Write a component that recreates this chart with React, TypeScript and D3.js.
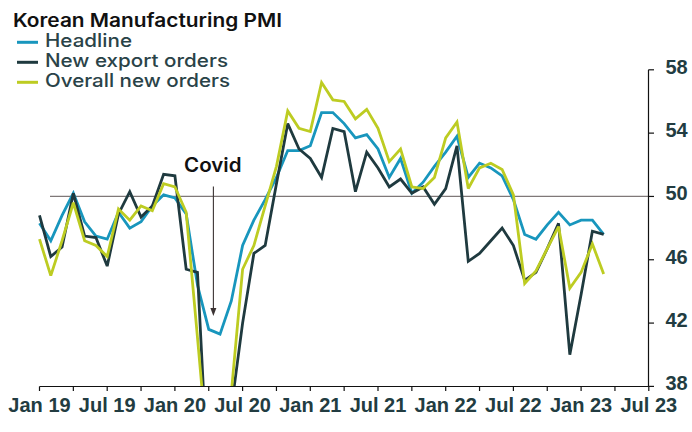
import React from "react";
import * as d3 from "d3";

// Monthly, Jan 2019 .. Mar 2023
const startYear = 2019;
const headline = [48.3, 47.2, 48.8, 50.2, 48.4, 47.5, 47.3, 49.0, 48.0, 48.4, 49.4, 50.1,
  49.9, 48.9, 44.4, 41.6, 41.3, 43.4, 46.9, 48.5, 49.8, 51.2, 52.9, 52.9,
  53.2, 55.3, 55.3, 54.6, 53.7, 53.9, 53.0, 51.2, 52.4, 50.2, 50.9, 51.9,
  52.8, 53.8, 51.2, 52.1, 51.8, 51.3, 49.8, 47.6, 47.3, 48.2, 49.0, 48.2,
  48.5, 48.5, 47.6];
const newExportOrders = [48.8, 46.2, 46.8, 50.2, 47.5, 47.4, 45.6, 48.9, 50.3, 48.7, 49.4, 51.4,
  51.3, 45.4, 45.2, 31.2, 30.5, 36.6, 42.0, 46.4, 46.9, 50.8, 54.6, 53.0,
  52.4, 51.2, 54.3, 54.1, 50.3, 52.8, 51.8, 50.6, 51.1, 50.2, 50.6, 49.5,
  50.5, 53.2, 45.9, 46.4, 47.2, 48.0, 46.9, 44.7, 45.2, 46.7, 48.3, 40.0,
  43.8, 47.8, 47.6];
const overallNewOrders = [47.3, 45.0, 47.2, 49.6, 47.2, 46.9, 46.2, 49.2, 48.5, 49.4, 49.1, 50.8,
  50.6, 49.0, 41.1, 33.0, 32.0, 37.6, 45.4, 46.9, 49.4, 51.9, 55.4, 54.3,
  54.1, 57.2, 56.1, 56.0, 54.9, 55.5, 54.3, 52.2, 53.0, 50.6, 50.5, 51.2,
  53.7, 54.7, 50.5, 51.8, 52.1, 51.7, 50.1, 44.5, 45.3, 46.7, 48.1, 44.2,
  45.2, 47.0, 45.1];

const seriesNames = ["Headline", "New export orders", "Overall new orders"];
const seriesColors = ["#1896bd", "#1f3a3f", "#bdcc22"];
const seriesData = [headline, newExportOrders, overallNewOrders];

const yTicks = [38, 42, 46, 50, 54, 58];
const xLabelMonths = [0, 6, 12, 18, 24, 30, 36, 42, 48, 54];
const monthNames = ["Jan", "Jul"];
const title = "Korean Manufacturing PMI";
const annotation = "Covid";
const annotationMonth = 15.5;
const referenceValue = 50;

export default function App() {
  const W = 692, H = 432;
  const x = d3.scaleLinear().domain([0, 54]).range([39.5, 648.8]);
  const y = d3.scaleLinear().domain([38, 58]).range([386.4, 69.8]);
  const line = d3.line<number>().x((_, i) => x(i)).y((d) => y(d));
  const quarterTicks = d3.range(0, 55, 3);
  const axisColor = "#223c41";
  const legendWidths = [87, 183, 185];
  const arrowX = x(annotationMonth) - 1;

  return (
    <svg width={W} height={H} style={{ position: "absolute", left: 0, top: 0, background: "#fff" }}>
      <defs>
        <clipPath id="plot">
          <rect x={0} y={40} width={W} height={386.6 - 40} />
        </clipPath>
      </defs>
      <text x={13} y={27.3} fontFamily="Inter, 'Liberation Sans', sans-serif" fontWeight={600}
        fontSize={18.5} fill="#111" textLength={269} lengthAdjust="spacingAndGlyphs">{title}</text>
      {seriesNames.map((n, i) => (
        <g key={n}>
          <line x1={17} x2={38} y1={42.3 + i * 20} y2={42.3 + i * 20} stroke={seriesColors[i]} strokeWidth={3} />
          <text x={45} y={47.3 + i * 19.9} fontFamily="Inter, 'Liberation Sans', sans-serif" fontWeight={500}
            fontSize={18.3} fill="#2a4348" textLength={legendWidths[i]} lengthAdjust="spacingAndGlyphs">{n}</text>
        </g>
      ))}
      {/* reference line */}
      <line x1={50} x2={648.5} y1={y(referenceValue)} y2={y(referenceValue)} stroke="#7f7878" strokeWidth={1.2} />
      {/* series */}
      <g clipPath="url(#plot)">
        {seriesData.map((d, i) => (
          <path key={i} d={line(d) || ""} fill="none" stroke={seriesColors[i]} strokeWidth={2.8}
            strokeLinejoin="miter" strokeMiterlimit={3} />
        ))}
      </g>
      {/* x axis */}
      <line x1={x(0)} x2={x(54)} y1={386.5} y2={386.5} stroke="#111" strokeWidth={1.2} />
      {quarterTicks.map((m) => (
        <line key={m} x1={x(m)} x2={x(m)} y1={386.5} y2={391} stroke="#111" strokeWidth={1.2} />
      ))}
      {xLabelMonths.map((m) => (
        <text key={m} x={x(m)} y={412.3} textAnchor="middle" fontFamily="'Liberation Sans', Arial, sans-serif"
          fontWeight={700} fontSize={20} fill={axisColor}>
          {`${monthNames[(m / 6) % 2]} ${String(startYear + Math.floor(m / 12)).slice(2)}`}
        </text>
      ))}
      {/* y axis (right) */}
      <line x1={648.5} x2={648.5} y1={y(58)} y2={386.5} stroke="#111" strokeWidth={1.2} />
      {yTicks.map((t) => (
        <g key={t}>
          <line x1={648.5} x2={654} y1={y(t)} y2={y(t)} stroke="#111" strokeWidth={1.2} />
          <text x={665.5} y={y(t) + 4} fontFamily="'Liberation Sans', Arial, sans-serif" fontWeight={700}
            fontSize={20} fill={axisColor}>{t}</text>
        </g>
      ))}
      {/* annotation */}
      <text x={184} y={172.3} fontFamily="Inter, 'Liberation Sans', sans-serif" fontWeight={600} fontSize={20}
        fill="#111" textLength={57.5} lengthAdjust="spacingAndGlyphs">{annotation}</text>
      <line x1={arrowX} x2={arrowX} y1={186.5} y2={310} stroke="#3b3333" strokeWidth={1.1} />
      <path d={`M${arrowX - 3},${308} L${arrowX + 3},${308} L${arrowX},${316} Z`} fill="#3b3333" />
    </svg>
  );
}
